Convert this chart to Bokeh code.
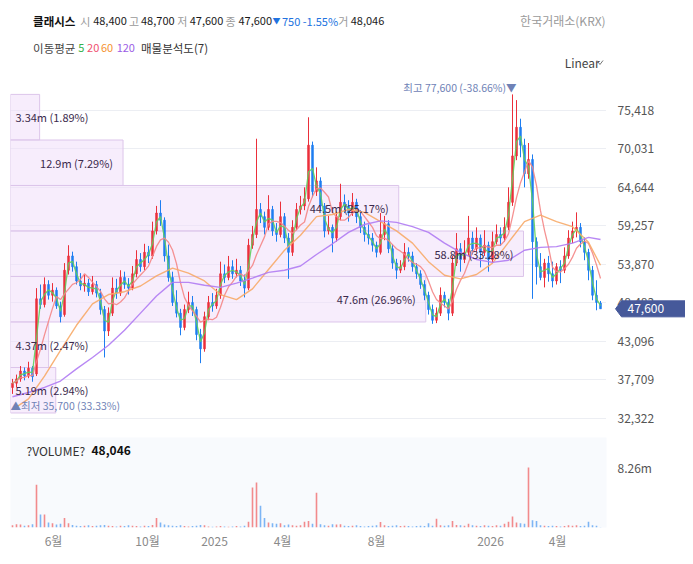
import numpy as np
import pandas as pd
from bokeh.plotting import figure
from bokeh.models import (Range1d, FixedTicker, ColumnDataSource, Grid,
                          NumeralTickFormatter, CustomJSTickFormatter)
from bokeh.layouts import column, row
from bokeh.embed import file_html
from bokeh.resources import INLINE
from bokeh.core.properties import value

FONT = "Noto Sans CJK KR"
W = 685

# ---------------- data ----------------
opens = [36600, 37200, 37800, 38900, 38200, 39300, 38500, 49000, 48200, 51000,
         49500, 50200, 48000, 46800, 53000, 55000, 53500, 51500, 50800, 51200,
         50000, 51000, 49800, 47500, 44500, 47000, 50500, 49800, 52000, 51000,
         50500, 52500, 54500, 53500, 55500, 55000, 58500, 61000, 60000, 55000,
         52000, 48500, 47000, 45000, 47500, 48500, 47500, 44000, 42000, 46500,
         48500, 48000, 49500, 52500, 52000, 53500, 52500, 53000, 51500, 50500,
         56500, 58000, 61500, 60500, 59000, 61500, 58500, 58000, 60500, 57500,
         55500, 59000, 61500, 62000, 63000, 70500, 64000, 65500, 62000, 58500,
         59000, 57500, 60500, 62500, 62000, 61000, 62500, 60500, 59000, 58000,
         57500, 56500, 55500, 58000, 59500, 56000, 54000, 53000, 53500, 55500,
         55000, 53500, 52500, 51000, 49500, 47500, 46000, 47000, 49500, 48500,
         47000, 54000, 56000, 54500, 55500, 57500, 56000, 57500, 55500, 56500,
         54500, 57000, 58000, 57500, 59000, 62500, 69000, 73000, 70500, 66500,
         68500, 57000, 53500, 52000, 54000, 52500, 51500, 53500, 53000, 55000,
         57500, 58500, 59000, 57000, 55500, 53000, 49500, 48400]
highs = [37800, 38400, 39600, 39400, 40200, 39600, 50500, 51000, 52000, 51600,
         51200, 50600, 48600, 54000, 56500, 55600, 54200, 52600, 52400, 51800,
         52200, 51500, 50400, 48000, 47800, 52000, 51800, 53000, 52800, 51900,
         53600, 55800, 55400, 56700, 56400, 59800, 62000, 62800, 60400, 56600,
         52800, 50200, 47600, 48200, 50000, 49400, 47900, 44800, 47200, 49400,
         49800, 50400, 54200, 53800, 55000, 54400, 54600, 53600, 52400, 57400,
         59200, 71400, 62400, 61200, 63500, 62000, 59600, 62600, 61000, 58200,
         60000, 62400, 63400, 64600, 74400, 71000, 67400, 66000, 62400, 60600,
         59400, 61200, 65100, 63600, 62800, 63800, 63000, 61400, 59800, 59400,
         58200, 57000, 61000, 60600, 60000, 56600, 54600, 54400, 56800, 56200,
         55600, 54000, 53000, 51600, 50000, 48200, 47800, 50600, 50000, 49000,
         55000, 58200, 56800, 57200, 60600, 58400, 59000, 58000, 58600, 57000,
         58400, 59400, 59000, 60400, 64600, 77600, 76800, 74200, 71400, 70800,
         69200, 57600, 55400, 54600, 55000, 54200, 54000, 54400, 56200, 58600,
         59800, 61100, 59600, 57600, 56000, 53600, 51600, 48700]
lows = [35700, 36600, 37400, 37600, 37900, 37400, 38200, 47600, 47800, 48900,
        48600, 47600, 45700, 46500, 52400, 52800, 51000, 50200, 50000, 49400,
        49600, 49200, 46800, 40800, 43800, 46600, 49000, 49400, 50400, 49600,
        50200, 52000, 52800, 53000, 54000, 54600, 58000, 59200, 54200, 51400,
        48000, 46400, 43900, 44600, 47000, 46600, 43200, 40000, 41600, 46000,
        47200, 47600, 49000, 51200, 51600, 51800, 52000, 50800, 49200, 50200,
        56000, 57500, 59600, 58000, 58600, 57800, 57000, 57600, 56800, 51800,
        55000, 58600, 60800, 61400, 62600, 63200, 63400, 61400, 57600, 58000,
        55500, 57000, 60000, 61000, 59800, 60600, 59600, 58200, 57000, 56600,
        55600, 54800, 55200, 57200, 55400, 53200, 51800, 52600, 53000, 54200,
        52800, 51800, 50400, 48800, 46800, 45500, 45600, 46600, 47800, 46000,
        46600, 53600, 52800, 54000, 55000, 55200, 55600, 53400, 55000, 52800,
        54000, 56600, 56400, 57000, 58600, 62000, 68400, 68800, 64600, 65800,
        49000, 51000, 51600, 50600, 51400, 50600, 51000, 51200, 52600, 54600,
        56800, 57600, 56200, 54400, 51600, 48800, 47400, 47600]
closes = [37200, 37800, 38900, 38200, 39300, 38100, 49000, 48200, 51000, 49500,
          50200, 48000, 46500, 53000, 55000, 53500, 51500, 50800, 51200, 50000,
          51000, 49800, 47500, 44500, 47000, 50500, 49800, 52000, 51000, 50500,
          52500, 54500, 53500, 55500, 55000, 58500, 61000, 60000, 55000, 52000,
          48500, 47000, 45000, 47500, 48500, 47500, 44000, 42000, 46500, 48500,
          48000, 49500, 52500, 52000, 53500, 52500, 53000, 51500, 50500, 56500,
          58000, 61500, 60500, 59000, 61500, 58500, 58000, 60500, 57500, 55500,
          59000, 61500, 62000, 63000, 70500, 64000, 65500, 62000, 58500, 59000,
          57500, 60500, 62500, 62000, 61000, 62500, 60500, 59000, 58000, 57500,
          56500, 55500, 58000, 59500, 56000, 54000, 53000, 53500, 55500, 55000,
          53500, 52500, 51000, 49500, 47500, 46000, 47000, 49500, 48500, 47000,
          54000, 56000, 54500, 55500, 57500, 56000, 57500, 55500, 56500, 54500,
          57000, 58000, 57500, 59000, 62500, 69000, 73000, 70500, 66500, 68500,
          57000, 53500, 52000, 54000, 52500, 51500, 53500, 53000, 55000, 57500,
          58500, 59000, 57000, 55500, 53000, 49500, 48500, 47600]
volumes_m = [0.30, 0.45, 0.40, 0.25, 0.30, 0.45, 5.90, 1.80, 1.80, 0.70,
             0.60, 0.40, 0.50, 1.30, 0.60, 0.35, 0.25, 0.20, 0.25, 0.30,
             0.20, 0.25, 0.30, 0.35, 0.25, 0.20, 0.15, 0.25, 0.20, 0.30,
             0.25, 0.20, 0.15, 0.25, 0.20, 0.35, 1.30, 0.70, 0.40, 0.30,
             0.25, 0.20, 0.30, 0.20, 0.15, 0.20, 0.25, 0.35, 0.30, 0.15,
             0.10, 0.15, 0.20, 0.15, 0.10, 0.15, 0.20, 0.15, 0.25, 0.80,
             5.50, 6.20, 3.00, 1.30, 0.70, 0.60, 0.50, 0.60, 0.30, 0.40,
             0.30, 0.25, 0.30, 0.80, 0.90, 0.50, 4.80, 0.45, 0.30, 0.25,
             0.45, 0.40, 0.45, 0.25, 0.20, 0.25, 0.30, 0.20, 0.15, 0.20,
             0.25, 0.30, 0.75, 0.30, 0.20, 0.25, 0.30, 0.20, 0.25, 0.20,
             0.15, 0.20, 0.25, 0.20, 0.60, 0.25, 1.20, 0.30, 0.25, 0.30,
             0.90, 0.35, 0.30, 0.25, 0.50, 0.30, 0.25, 0.20, 0.30, 0.25,
             0.20, 0.30, 0.25, 0.50, 0.80, 1.50, 0.70, 0.60, 0.50, 8.26,
             1.00, 0.90, 0.30, 0.25, 0.20, 0.25, 0.20, 0.15, 0.20, 0.30,
             0.25, 0.30, 0.20, 0.25, 0.80, 0.30, 0.25, 0.048046]
ma_idx = list(range(0, 145, 4)) + [147]
ma60 = [33500, 35000, 38200, 41800, 45300, 48300, 49600, 50000, 50800, 52200,
        53300, 52600, 51500, 49600, 48900, 50400, 53100, 55800, 57900, 60500,
        60800, 61500, 61100, 59800, 58500, 56800, 54200, 52300, 51800, 52400,
        54000, 56900, 59800, 60700, 59800, 59100, 56900, 53700]
ma120 = [35300, 35900, 36600, 37500, 39200, 40800, 42500, 44600, 47000, 49400,
         51300, 51300, 50900, 50600, 51200, 51900, 52700, 53000, 53600, 55200,
         56700, 58300, 59400, 59900, 59700, 59100, 58300, 56800, 55500, 54500,
         54100, 54400, 55800, 56200, 56300, 56800, 57600, 57300]
month_pos = [10.25, 33.75, 50.5, 67.5, 91.0, 119.5, 136.25]
month_labels = ["6월", "10월", "2025", "4월", "8월", "2026", "4월"]
price_ticks = [32322, 37709, 43096, 48483, 53870, 59257, 64644, 70031, 75418]
band_edges = [77600, 71220, 64860, 58490, 52130, 45760, 39390, 33030]
band_vol_m = [3.34, 12.9, 44.5, 58.8, 47.6, 4.37, 5.19]
band_pct = [1.89, 7.29, 25.17, 33.28, 26.96, 2.47, 2.94]

# ---------------- layout constants ----------------
LB = 10                            # left border (px)
X0, X1 = -0.5, 148.5
FRAME_W = 596
PPU = FRAME_W / (X1 - X0)          # px per bar
RB = W - LB - FRAME_W              # right strip (price scale)
HEAD_H = 76
PY0, PY1 = 30580, 80105
PH = 354
PPX = (PY1 - PY0) / PH             # price per px

N = len(closes)
idx = np.arange(N)
UP, DOWN = "#eb2f3a", "#1d7df1"
VUP, VDOWN = "#f28a8c", "#7db5f5"
up = [c >= o for o, c in zip(opens, closes)]
src = ColumnDataSource(dict(
    x=idx, h=highs, l=lows,
    top=[max(o, c) for o, c in zip(opens, closes)],
    bottom=[min(o, c) for o, c in zip(opens, closes)],
    color=[UP if u else DOWN for u in up],
    vol=[v * 1e6 for v in volumes_m],
    vcolor=[VUP if u else VDOWN for u in up],
))

ma5 = pd.Series(closes).rolling(2, min_periods=1).mean()
ma20 = pd.Series(closes).rolling(6, min_periods=1).mean()


def no_grids(fig):
    for r in list(fig.center):
        if isinstance(r, Grid):
            r.visible = False


# ---------------- header ----------------
h = figure(width=W, height=HEAD_H, x_range=Range1d(0, W), y_range=Range1d(HEAD_H, 0),
           output_backend="svg", toolbar_location=None, min_border=0,
           x_axis_location=None, y_axis_location=None)
no_grids(h)
h.outline_line_color = None


def htext(x, y, t, color="#222", size="11.5px", style="normal", align="left"):
    h.text(x=[x], y=[y], text=[t], text_color=color, text_font=value(FONT),
           text_font_size=size, text_font_style=style, text_align=align,
           text_baseline="middle")


htext(26, 20, "클래시스", "#111", "11.5px", "bold")
for gx, g, nx, n in [(86, "시", 95, "48,400"), (142, "고", 150, "48,700"),
                     (197.5, "저", 206, "47,600"), (253, "종", 262, "47,600"),
                     (382.5, "거", 391, "48,046")]:
    htext(gx, 20, g, "#9a9a9a", "11px", "normal", "center")
    htext(nx, 20, n, "#1a1a1a", "11px")
htext(301, 20, "▼", "#2172e0", "8px")
htext(312, 20, "750 -1.55%", "#2172e0", "11px")
htext(684, 20, "한국거래소(KRX)", "#9a9a9a", "12px", "normal", "right")
htext(26, 47, "이동평균", "#444", "11.5px")
htext(78, 47, "5", "#35b24a", "11px")
htext(88, 47, "20", "#f0506e", "11px")
htext(104, 47, "60", "#f59231", "11px")
htext(122, 47, "120", "#9b5de5", "11px")
htext(150, 47, "매물분석도(7)", "#333", "11.5px")
htext(637, 62, "Linear", "#444", "12px")
h.line(x=[674, 677.5, 681], y=[60, 64, 60], line_color="#777", line_width=1)

# ---------------- price pane ----------------
xr = Range1d(X0, X1)
yr = Range1d(PY0, PY1)
p = figure(width=LB + FRAME_W, height=PH + 4, x_range=xr, y_range=yr,
           output_backend="svg", toolbar_location=None,
           x_axis_location=None, y_axis_location=None,
           min_border_left=LB, min_border_right=0, min_border_top=0, min_border_bottom=4)
p.outline_line_color = None
no_grids(p)
p.add_layout(Grid(dimension=1, ticker=FixedTicker(ticks=price_ticks),
                  grid_line_color="#eceef3"))

# volume profile boxes
vmax_b = max(band_vol_m)
BAND_MAX_PX = 513
b_len_px = [BAND_MAX_PX * v / vmax_b for v in band_vol_m]
b_right = [X0 + L / PPU for L in b_len_px]
p.quad(left=X0, right=b_right, top=band_edges[:-1], bottom=band_edges[1:],
       fill_color="#f1dffa", fill_alpha=0.55, line_color="#dcc5ea", line_width=1)

# candles
p.segment(x0="x", y0="h", x1="x", y1="l", line_color="color", line_width=1, source=src)
p.vbar(x="x", width=0.5, top="top", bottom="bottom", fill_color="color",
       line_color="color", line_width=0.5, source=src)

# moving averages
p.line(idx, ma5, line_color="#5fcf5c", line_width=1.3, line_alpha=0.9)
p.line(idx, ma20, line_color="#f48686", line_width=1.3, line_alpha=0.9)
p.line(ma_idx, ma60, line_color="#f7aa68", line_width=1.4, line_alpha=0.9)
p.line(ma_idx, ma120, line_color="#b07bf3", line_width=1.4, line_alpha=0.9)

# band labels
b_mid = [(a + b) / 2 for a, b in zip(band_edges[:-1], band_edges[1:])]
b_txt = [f"{v}m ({pc:.2f}%)" for v, pc in zip(band_vol_m, band_pct)]
wide = [L > 100 for L in b_len_px]
p.text(x=[r for r, w_ in zip(b_right, wide) if w_], y=[m for m, w_ in zip(b_mid, wide) if w_],
       text=[t for t, w_ in zip(b_txt, wide) if w_], text_align="right", x_offset=-10,
       text_baseline="middle", text_font=value(FONT), text_font_size="11px", text_color="#3b2a4c")
p.text(x=[X0] * sum(not w_ for w_ in wide), y=[m for m, w_ in zip(b_mid, wide) if not w_],
       text=[t for t, w_ in zip(b_txt, wide) if not w_], text_align="left", x_offset=5,
       text_baseline="middle", text_font=value(FONT), text_font_size="11px", text_color="#3b2a4c")

# high / low markers
last = closes[-1]
i_hi = int(np.argmax(highs))
i_lo = int(np.argmin(lows))
hi, lo = highs[i_hi], lows[i_lo]
p.text(x=[i_hi], y=[hi], text=[f"최고 {hi:,} ({(last - hi) / hi * 100:.2f}%)▼"],
       text_align="right", text_baseline="bottom", x_offset=4, y_offset=1,
       text_font=value(FONT), text_font_size="10.5px", text_color="#6f82b6")
p.text(x=[i_lo], y=[lo], text=[f"▲최저 {lo:,} ({(last - lo) / lo * 100:.2f}%)"],
       text_align="left", text_baseline="top", x_offset=-2, y_offset=4,
       text_font=value(FONT), text_font_size="10.5px", text_color="#6f82b6")

# ---------------- price scale strip (right of the price pane) ----------------
SX0 = LB + FRAME_W
sp = figure(width=RB, height=PH + 4, x_range=Range1d(SX0, W), y_range=yr,
            output_backend="svg", toolbar_location=None,
            x_axis_location=None, y_axis_location=None,
            min_border_left=0, min_border_right=0, min_border_top=0, min_border_bottom=4)
sp.outline_line_color = None
no_grids(sp)
sp.text(x=[SX0 + 11] * len(price_ticks), y=price_ticks, text=[f"{t:,}" for t in price_ticks],
        text_baseline="middle", text_align="left", text_font=value(FONT),
        text_font_size="12px", text_color="#555")
TAG = "#46599a"
half = 8 * PPX
sp.patch(x=[SX0 + 9, SX0 + 15, W + 6, W + 6, SX0 + 15],
         y=[last, last + half, last + half, last - half, last - half],
         fill_color=TAG, line_color=TAG, line_width=1)
sp.text(x=[SX0 + 21], y=[last], text=[f"{last:,}"], text_baseline="middle", text_align="left",
        text_font=value(FONT), text_font_size="12px", text_color="white")

# ---------------- volume pane ----------------
VH = 90
vtop = max(volumes_m) * 1e6 * 1.5
v = figure(width=W, height=VH + 32, x_range=xr, y_range=Range1d(0, vtop),
           output_backend="svg", toolbar_location=None,
           x_axis_location="below", y_axis_location="right",
           min_border_left=LB, min_border_right=RB, min_border_top=3, min_border_bottom=29,
           background_fill_color="#f8fafd")
v.outline_line_color = None
no_grids(v)
v.vbar(x="x", width=0.4, top="vol", bottom=0, fill_color="vcolor", line_color=None, source=src)
v.yaxis.ticker = FixedTicker(ticks=[max(volumes_m) * 1e6])
v.yaxis.formatter = NumeralTickFormatter(format="0.00a")
v.xaxis.ticker = FixedTicker(ticks=month_pos)
v.xaxis.formatter = CustomJSTickFormatter(
    args=dict(pos=month_pos, labels=month_labels),
    code="const i = pos.findIndex(q => Math.abs(q - tick) < 1e-6); return i >= 0 ? labels[i] : '';")
for a in (v.xaxis[0], v.yaxis[0]):
    a.axis_line_color = None
    a.major_tick_line_color = None
    a.minor_tick_line_color = None
    a.major_tick_out = 0
    a.major_label_text_font = FONT
    a.major_label_text_font_size = "12px"
v.xaxis.major_label_standoff = 4
v.xaxis.major_label_text_color = "#8a8a8a"
v.yaxis.major_label_standoff = 11
v.yaxis.major_label_text_color = "#555"

vpp = vtop / VH
v.text(x=[X0 + 16 / PPU], y=[vtop - 13 * vpp], text=["?VOLUME?"], text_baseline="middle",
       text_font=value(FONT), text_font_size="12px", text_color="#333")
v.text(x=[X0 + 81 / PPU], y=[vtop - 13 * vpp], text=[f"{int(round(volumes_m[-1] * 1e6)):,}"],
       text_baseline="middle", text_font=value(FONT), text_font_size="12px",
       text_font_style="bold", text_color="#111")

layout = column(h, row(p, sp), v)
open("out.html", "w").write(file_html(layout, INLINE))
